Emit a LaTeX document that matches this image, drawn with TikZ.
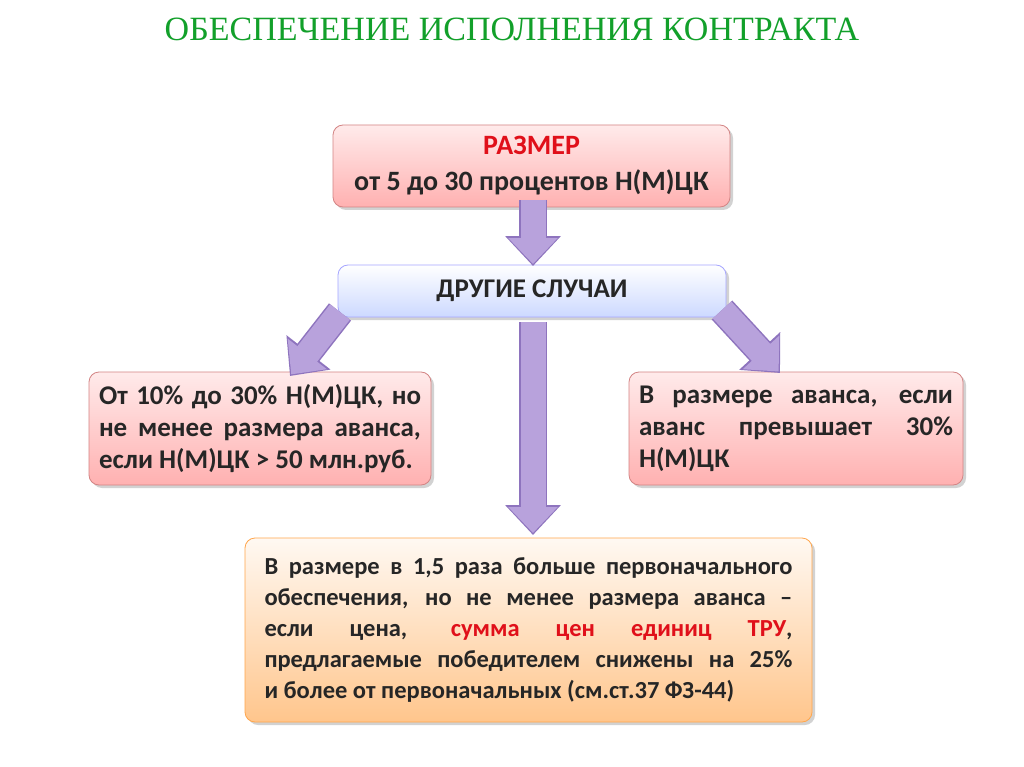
\documentclass[tikz,border=0pt]{standalone}
\usepackage{fontspec}
\setmainfont{Carlito}
\newfontfamily\titlefont{Liberation Serif}
\usetikzlibrary{shadows,arrows.meta,calc}
\definecolor{tgreen}{HTML}{12A02A}
\definecolor{tred}{HTML}{E0101A}
\definecolor{ttext}{HTML}{262626}
\definecolor{pinkbd}{HTML}{C05050}
\definecolor{arrowin}{HTML}{B8A2DC}
\definecolor{arrowbd}{HTML}{8E74BE}
\tikzset{
  box/.style={rounded corners=10pt, draw=pinkbd!70, line width=0.8pt, drop shadow={opacity=0.35,shadow xshift=3pt,shadow yshift=-3pt},
    font=\bfseries\fontsize{27}{32}\selectfont, text=ttext, inner sep=10pt},
  pinkbox/.style={box, top color=red!8, bottom color=red!35!pink!60},
  bluebox/.style={box, draw=blue!35, top color=white, bottom color=cyan!25!blue!20},
  orangebox/.style={box, draw=orange!70, top color=orange!5, bottom color=orange!45},
  barrowout/.style={line width=28pt, draw=arrowbd, -{Triangle[width=54pt,length=30pt]}},
  barrowin/.style={line width=25pt, draw=arrowin, shorten >=2pt, -{Triangle[width=48pt,length=26pt]}},
}
\newcommand{\blockarr}[2]{\draw[barrowout] #1 -- #2; \draw[barrowin] #1 -- #2;}
\begin{document}
\begin{tikzpicture}[x=1pt,y=-1pt]
\useasboundingbox[fill=white] (0,0) rectangle (1024,767);
\node[font=\titlefont\fontsize{34}{38}\selectfont, text=tgreen] (title) at (512,29) {ОБЕСПЕЧЕНИЕ ИСПОЛНЕНИЯ КОНТРАКТА};
\node[pinkbox, font=\bfseries\fontsize{28}{36}\selectfont, minimum width=397pt, minimum height=82pt, align=center] (top) at (531.5,166) {\textcolor{tred}{РАЗМЕР}\\от 5 до 30 процентов Н(М)ЦК};
\node[bluebox, minimum width=388pt, minimum height=52pt] (mid) at (532,291) {ДРУГИЕ СЛУЧАИ};
\node[pinkbox, minimum width=340pt, minimum height=113pt, text width=322pt, align=justify] (left) at (260,428.5) {От 10\% до 30\% Н(М)ЦК, но\linebreak не менее размера аванса,\linebreak если Н(М)ЦК > 50 млн.руб.};
\node[pinkbox, minimum width=332pt, minimum height=113pt, text width=314pt, align=justify] (right) at (796,428.5) {В размере аванса, если\linebreak аванс превышает 30\%\linebreak Н(М)ЦК};
\node[orangebox, font=\bfseries\fontsize{24.5}{31}\selectfont, minimum width=567pt, minimum height=184pt, text width=528pt, align=justify] (bot) at (528.5,630) {В размере в 1,5 раза больше первоначального\linebreak обеспечения, но не менее размера аванса --\linebreak если цена, \textcolor{tred}{сумма цен единиц ТРУ},\linebreak предлагаемые победителем снижены на 25\%\linebreak и более от первоначальных (см.ст.37 ФЗ-44)};
\coordinate (a1) at (533,200); \coordinate (a1e) at (533,266);
\coordinate (a2) at (533,322); \coordinate (a2e) at (533,535);
\coordinate (a3) at (340,312); \coordinate (a3e) at (290,376);
\coordinate (a4) at (722,310); \coordinate (a4e) at (780,373);
\blockarr{(a1)}{(a1e)}
\blockarr{(a2)}{(a2e)}
\blockarr{(a3)}{(a3e)}
\blockarr{(a4)}{(a4e)}
\end{tikzpicture}
\end{document}
